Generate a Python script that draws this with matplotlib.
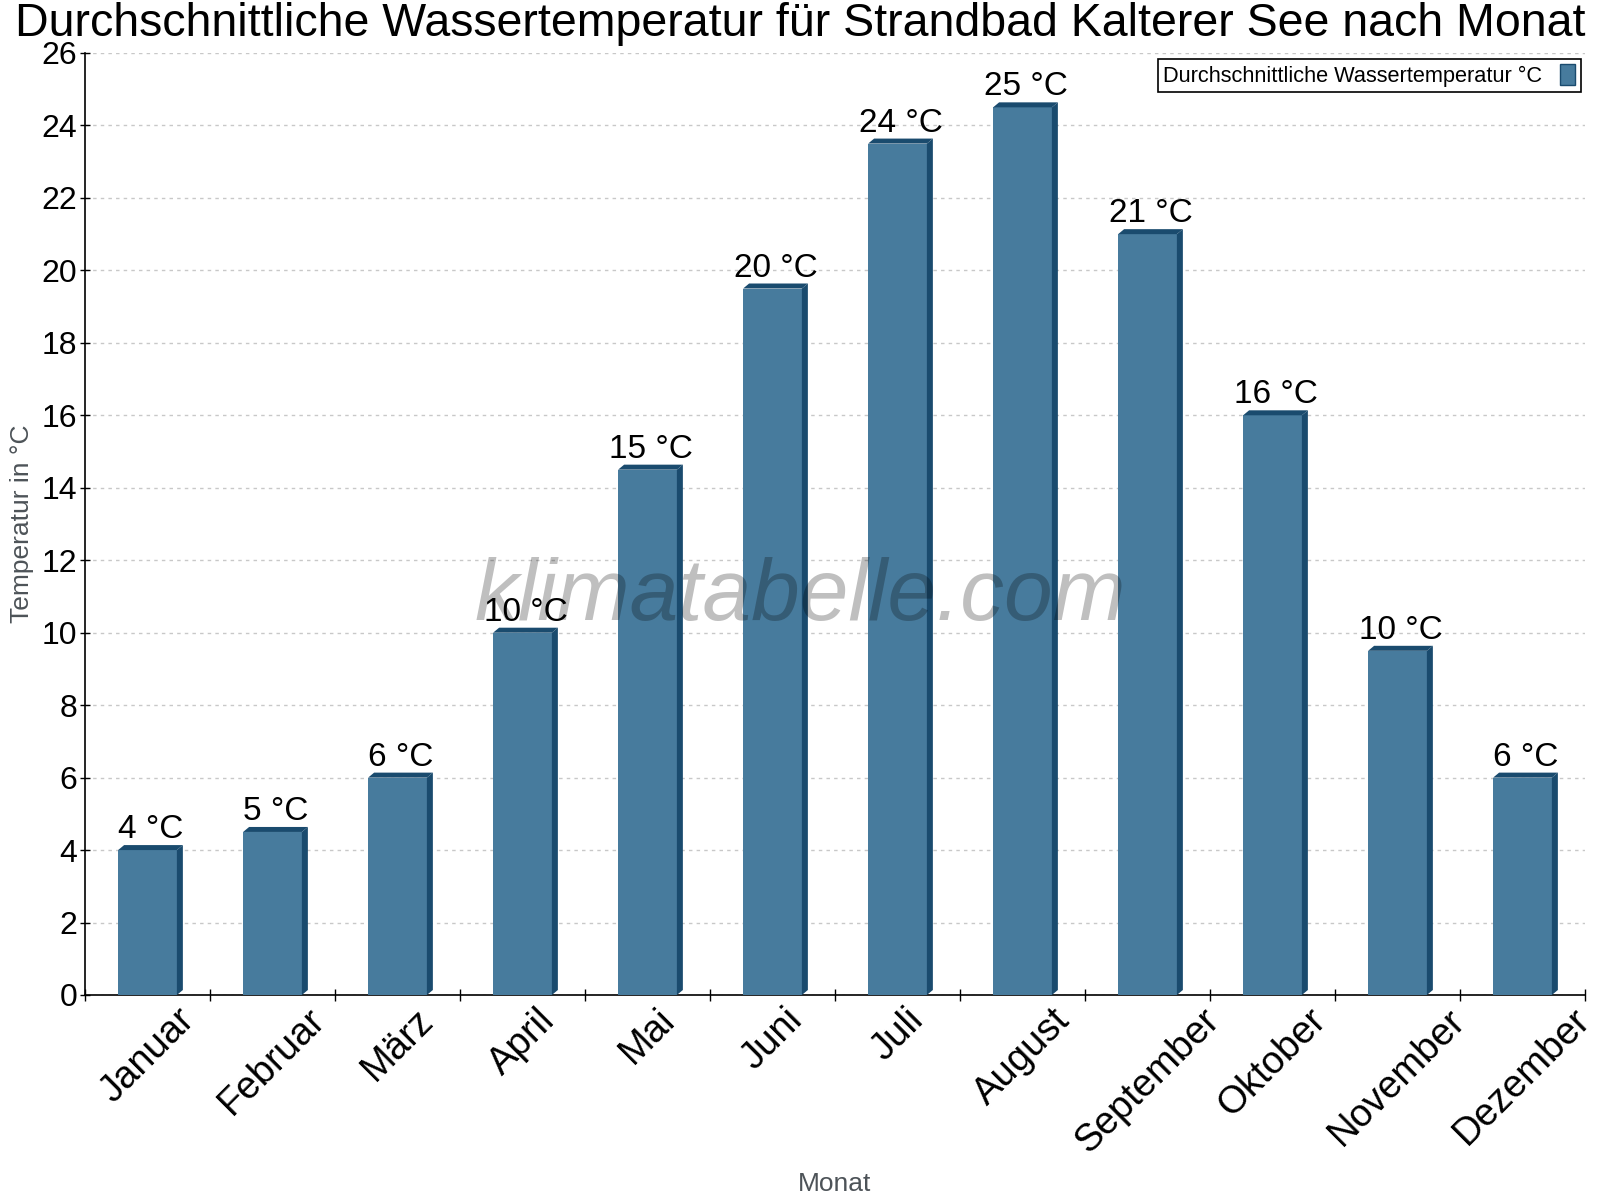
import numpy as np
import matplotlib
matplotlib.use("Agg")
import matplotlib.pyplot as plt
from matplotlib.patches import Polygon

plt.rcParams['font.family'] = ['Liberation Sans', 'DejaVu Sans']

months = ['Januar', 'Februar', 'März', 'April', 'Mai', 'Juni', 'Juli',
          'August', 'September', 'Oktober', 'November', 'Dezember']
water_temp = [4, 4.5, 6, 10, 14.5, 19.5, 23.5, 24.5, 21, 16, 9.5, 6]
series_name = 'Durchschnittliche Wassertemperatur °C'

front = '#477b9d'
side = '#1a4b6e'

fig = plt.figure(figsize=(16, 12), dpi=100)
ax = fig.add_axes([85/1600, 1-995/1200, 1500/1600, 942/1200])

x = np.arange(len(months))
w = 0.47
# depth of the fake 3d effect, in data units (~6px right, 5px up)
ddx = 0.048
ddy = 0.138

bars = ax.bar(x, water_temp, width=w, color=front, zorder=3, label=series_name,
              edgecolor='none')
for xi, h in zip(x, water_temp):
    x0, x1 = xi - w/2, xi + w/2
    top = Polygon([(x0, h), (x0+ddx, h+ddy), (x1+ddx, h+ddy), (x1, h)],
                  closed=True, facecolor=side, edgecolor='none', zorder=3)
    right = Polygon([(x1, 0), (x1+ddx, ddy), (x1+ddx, h+ddy), (x1, h)],
                    closed=True, facecolor=side, edgecolor='none', zorder=3)
    ax.add_patch(top)
    ax.add_patch(right)
    ax.annotate('%d °C' % int(np.floor(h + 0.5)), (xi + ddx/2, h + ddy),
                xytext=(0, 0), textcoords='offset points',
                ha='center', va='bottom', fontsize=24, zorder=5)

ax.set_xlim(-0.5, 11.5)
ax.set_ylim(0, 26)
ax.set_yticks(np.arange(0, 27, 2))
ax.grid(axis='y', color='#c8c8c8', linestyle=(0, (2.5, 3)), linewidth=1, zorder=0)

# ticks at the category borders, labels at the centers
ax.set_xticks(np.arange(-0.5, 12, 1))
ax.set_xticklabels([])
ax.set_xticks(x, minor=True)
ax.set_xticklabels(months, minor=True, rotation=45, fontsize=27.5)
ax.tick_params(axis='x', which='minor', length=0, pad=5)
ax.tick_params(axis='x', which='major', direction='inout', length=8, width=1)
ax.tick_params(axis='y', direction='inout', length=7, width=1, labelsize=23, pad=2)

for s in ['top', 'right']:
    ax.spines[s].set_visible(False)
ax.spines['left'].set_linewidth(1.2)
ax.spines['bottom'].set_linewidth(1.2)

ax.set_ylabel('Temperatur in °C', fontsize=19, color='#4d5358')
ax.yaxis.set_label_coords(-0.034, 0.5)
ax.set_xlabel('Monat', fontsize=19, color='#4d5358')
ax.xaxis.set_label_coords(0.5, -0.188)

leg = ax.legend(loc='upper right', bbox_to_anchor=(0.997, 0.994), fontsize=15.7,
                markerfirst=False, fancybox=False, framealpha=1,
                edgecolor='black', handlelength=0.7, handleheight=1.1,
                borderpad=0.25, handletextpad=0.8, borderaxespad=0)
leg.get_frame().set_linewidth(1.2)
for p in leg.get_patches():
    p.set_edgecolor(side)
    p.set_linewidth(1)

fig.text(0.5, 1 - 36/1200, 'Durchschnittliche Wassertemperatur für Strandbad Kalterer See nach Monat',
         ha='center', va='baseline', fontsize=33.5)

fig.text(0.5, 1 - 597/1200, 'klimatabelle.com', ha='center', va='center',
         fontsize=63, style='italic', color='black', alpha=0.25, zorder=10)

fig.savefig('out.png', dpi=100)
